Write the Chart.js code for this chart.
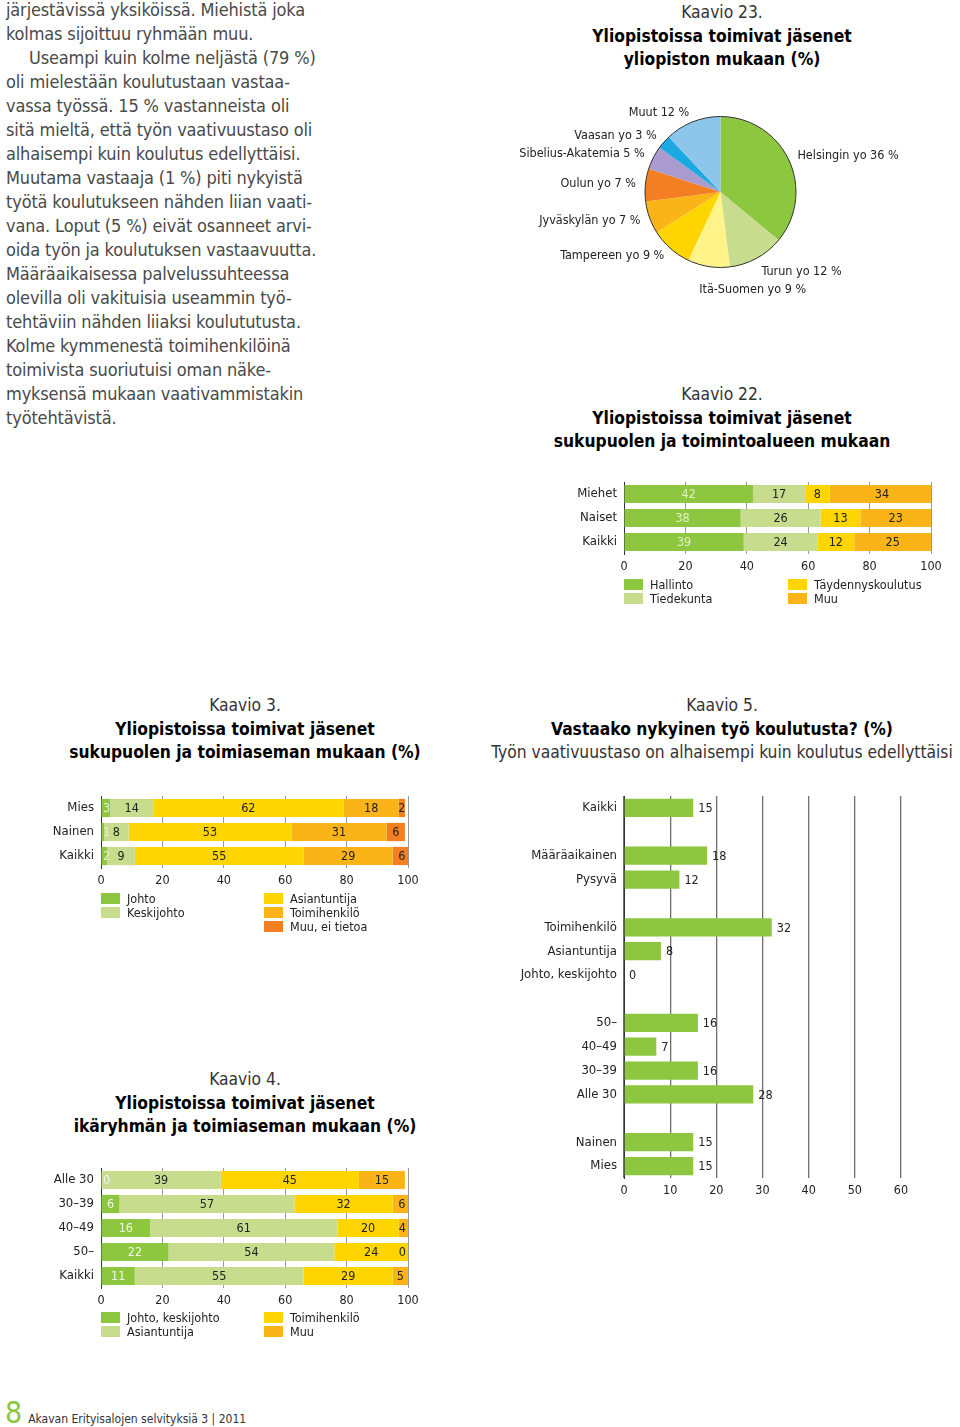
<!DOCTYPE html>
<html lang="fi">
<head>
<meta charset="utf-8">
<script src="https://cdn.jsdelivr.net/npm/chart.js@4.4.1/dist/chart.umd.min.js"></script>
<style>
  body { margin: 0; background: #fff; }
  #page { position: relative; width: 960px; height: 1427px; overflow: hidden;
    font-family: "Liberation Sans Narrow", "DejaVu Sans Condensed", "Roboto Condensed", Roboto, sans-serif; color: #222; }
  .txt { position: absolute; left: 6px; top: -2px; font-size: 18px; letter-spacing: -0.15px; line-height: 24px; color: #4a4a4a; white-space: nowrap; }
  .title { position: absolute; width: 520px; text-align: center; font-size: 17.3px; line-height: 23.7px; color: #333; white-space: nowrap; }
  .title b { color: #000; }
  .box { position: absolute; }
  .lg { position: absolute; height: 14px; line-height: 14px; font-size: 12.5px; white-space: nowrap; color: #222; }
  .lg i { display: inline-block; width: 19px; height: 11px; margin-right: 7px; vertical-align: -1px; }
  .foot { position: absolute; left: 5px; top: 1395px; white-space: nowrap; }
  .foot .n { font-size: 30px; color: #8dc63f; }
  .foot .s { font-size: 12px; color: #333; margin-left: 6px; }
</style>
</head>
<body>
<div id="page">
  <div class="txt">
    <div>järjestävissä yksiköissä. Miehistä joka</div>
    <div>kolmas sijoittuu ryhmään muu.</div>
    <div style="padding-left:23px">Useampi kuin kolme neljästä (79 %)</div>
    <div>oli mielestään koulutustaan vastaa-</div>
    <div>vassa työssä. 15 % vastanneista oli</div>
    <div>sitä mieltä, että työn vaativuustaso oli</div>
    <div>alhaisempi kuin koulutus edellyttäisi.</div>
    <div>Muutama vastaaja (1 %) piti nykyistä</div>
    <div>työtä koulutukseen nähden liian vaati-</div>
    <div>vana. Loput (5 %) eivät osanneet arvi-</div>
    <div>oida työn ja koulutuksen vastaavuutta.</div>
    <div>Määräaikaisessa palvelussuhteessa</div>
    <div>olevilla oli vakituisia useammin työ-</div>
    <div>tehtäviin nähden liiaksi koulututusta.</div>
    <div>Kolme kymmenestä toimihenkilöinä</div>
    <div>toimivista suoriutuisi oman näke-</div>
    <div>myksensä mukaan vaativammistakin</div>
    <div>työtehtävistä.</div>
  </div>

  <div class="title" style="left:462px; top:1px">Kaavio 23.<br><b>Yliopistoissa toimivat jäsenet</b><br><b>yliopiston mukaan (%)</b></div>
  <div class="title" style="left:462px; top:383px">Kaavio 22.<br><b>Yliopistoissa toimivat jäsenet</b><br><b>sukupuolen ja toimintoalueen mukaan</b></div>
  <div class="title" style="left:-15px; top:694px">Kaavio 3.<br><b>Yliopistoissa toimivat jäsenet</b><br><b>sukupuolen ja toimiaseman mukaan (%)</b></div>
  <div class="title" style="left:462px; top:694px">Kaavio 5.<br><b>Vastaako nykyinen työ koulutusta? (%)</b><br>Työn vaativuustaso on alhaisempi kuin koulutus edellyttäisi</div>
  <div class="title" style="left:-15px; top:1068px">Kaavio 4.<br><b>Yliopistoissa toimivat jäsenet</b><br><b>ikäryhmän ja toimiaseman mukaan (%)</b></div>

  <div class="foot"><span class="n">8</span><span class="s">Akavan Erityisalojen selvityksiä 3 | 2011</span></div>
</div>

<script>
// Kaavio 23: yliopiston mukaan
const uniLabels = ["Helsingin yo", "Turun yo", "Itä-Suomen yo", "Tampereen yo", "Jyväskylän yo", "Oulun yo", "Sibelius-Akatemia", "Vaasan yo", "Muut"];
const uniValues = [36, 12, 9, 9, 7, 7, 5, 3, 12];

// Kaavio 22: sukupuoli ja toimintoalue
const k22Groups = ["Miehet", "Naiset", "Kaikki"];
const k22Series = ["Hallinto", "Tiedekunta", "Täydennyskoulutus", "Muu"];
const k22Hallinto = [42, 38, 39];
const k22Tiedekunta = [17, 26, 24];
const k22Taydennys = [8, 13, 12];
const k22Muu = [34, 23, 25];

// Kaavio 3: sukupuoli ja toimiasema
const k3Groups = ["Mies", "Nainen", "Kaikki"];
const k3Series = ["Johto", "Keskijohto", "Asiantuntija", "Toimihenkilö", "Muu, ei tietoa"];
const k3Johto = [3, 1, 2];
const k3Keskijohto = [14, 8, 9];
const k3Asiantuntija = [62, 53, 55];
const k3Toimihenkilo = [18, 31, 29];
const k3Muu = [2, 6, 6];

// Kaavio 4: ikäryhmä ja toimiasema
const k4Groups = ["Alle 30", "30–39", "40–49", "50–", "Kaikki"];
const k4Series = ["Johto, keskijohto", "Asiantuntija", "Toimihenkilö", "Muu"];
const k4Johto = [0, 6, 16, 22, 11];
const k4Asiantuntija = [39, 57, 61, 54, 55];
const k4Toimihenkilo = [45, 32, 20, 24, 29];
const k4Muu = [15, 6, 4, 0, 5];

// Kaavio 5: työn vaativuustaso alhaisempi kuin koulutus (tyhjät rivit = välit)
const k5Rows = ["Kaikki", "", "Määräaikainen", "Pysyvä", "", "Toimihenkilö", "Asiantuntija", "Johto, keskijohto", "",
  "50–", "40–49", "30–39", "Alle 30", "", "Nainen", "Mies"];
const k5Values = [15, null, 18, 12, null, 32, 8, 0, null, 16, 7, 16, 28, null, 15, 15];

const GREEN = "#8dc63f", LIGHTGREEN = "#c8dc8e", YELLOW = "#ffd500", AMBER = "#fbb417", ORANGE = "#f47f22";
const FONT = '"Liberation Sans Narrow", "DejaVu Sans Condensed", "Roboto Condensed", Roboto, sans-serif';

Chart.defaults.font.family = FONT;
Chart.defaults.color = "#222";
Chart.defaults.animation = false;

const page = document.getElementById("page");

function makeCanvas(left, top, w, h) {
  const c = document.createElement("canvas");
  c.width = w; c.height = h;
  c.className = "box";
  c.style.left = left + "px"; c.style.top = top + "px";
  c.style.width = w + "px"; c.style.height = h + "px";
  page.appendChild(c);
  return c;
}

function legend(x1, x2, y0, names, colors, perCol) {
  names.forEach((n, i) => {
    const col = i < perCol ? 0 : 1;
    const row = col ? i - perCol : i;
    const d = document.createElement("div");
    d.className = "lg";
    d.style.left = (col ? x2 : x1) + "px";
    d.style.top = (y0 + row * 14 - 7) + "px";
    d.innerHTML = '<i style="background:' + colors[i] + '"></i>' + n;
    page.appendChild(d);
  });
}

// value labels for the bars
const barLabels = {
  id: "barLabels",
  afterDatasetsDraw(chart, args, opts) {
    const ctx = chart.ctx;
    const xs = chart.scales.x;
    ctx.save();
    ctx.font = "12.5px " + FONT;
    ctx.textBaseline = "middle";
    chart.data.datasets.forEach((ds, i) => {
      chart.getDatasetMeta(i).data.forEach((bar, j) => {
        const v = ds.data[j];
        if (v === null || v === undefined) return;
        const txt = String(v);
        const w = ctx.measureText(txt).width;
        let x;
        if (opts.outside) {
          ctx.textAlign = "left";
          x = bar.x + 5;
        } else {
          ctx.textAlign = "center";
          x = (bar.x + bar.base) / 2;
          x = Math.max(x, xs.left + w / 2 + 2);
          x = Math.min(x, xs.right - w / 2 - 2);
        }
        ctx.fillStyle = opts.colors ? opts.colors[i] : "#222";
        ctx.fillText(txt, x, bar.y + 1);
      });
    });
    ctx.restore();
  }
};

// area = chart area in page pixels
function barChart(area, yw, labels, datasets, opts) {
  const padTop = 20, padRight = 22, xh = 24;
  const c = makeCanvas(area.left - yw, area.top - padTop, yw + area.width + padRight, padTop + area.height + xh);
  return new Chart(c, {
    type: "bar",
    data: { labels: labels, datasets: datasets },
    options: {
      responsive: false,
      indexAxis: "y",
      layout: { padding: { top: padTop, right: padRight, left: 0, bottom: 0 } },
      datasets: { bar: { barPercentage: opts.bar || 0.76, categoryPercentage: 1 } },
      scales: {
        x: {
          stacked: opts.stacked, min: 0, max: opts.max,
          ticks: { stepSize: opts.step, padding: 5, font: { size: 12.5 }, color: "#222" },
          grid: { color: opts.gridColor, lineWidth: opts.gridWidth, drawTicks: false },
          border: { display: false },
          afterFit: s => { s.height = xh; }
        },
        y: {
          stacked: opts.stacked,
          ticks: { padding: 7, font: { size: 13 }, color: "#222", autoSkip: false },
          grid: { display: false, drawTicks: false },
          border: { display: true, color: "#333", width: 1 },
          afterFit: s => { s.width = yw; }
        }
      },
      plugins: {
        legend: { display: false },
        tooltip: { enabled: false },
        barLabels: { colors: opts.labelColors, outside: opts.outside }
      }
    },
    plugins: [barLabels]
  });
}

// Kaavio 23 pie
const pieColors = [GREEN, LIGHTGREEN, "#fff38a", YELLOW, AMBER, ORANGE, "#a99bcd", "#1ca9e1", "#8ec5ea"];
const pieLabelPlugin = {
  id: "pieText",
  afterDraw(chart) {
    const ctx = chart.ctx;
    const arcs = chart.getDatasetMeta(0).data;
    ctx.save();
    ctx.beginPath();
    ctx.arc(arcs[0].x, arcs[0].y, arcs[0].outerRadius, 0, Math.PI * 2);
    ctx.strokeStyle = "#333";
    ctx.lineWidth = 1;
    ctx.stroke();
    ctx.font = "12.5px " + FONT;
    ctx.fillStyle = "#222";
    ctx.textBaseline = "middle";
    arcs.forEach((arc, i) => {
      const mid = (arc.startAngle + arc.endAngle) / 2;
      const R = arc.outerRadius + 9.5;
      let x = arc.x + Math.cos(mid) * R;
      let y = arc.y + Math.sin(mid) * R;
      if (Math.sin(mid) > 0.95) { ctx.textAlign = "left"; x -= 8; y += 14; }
      else ctx.textAlign = Math.cos(mid) > 0 ? "left" : "right";
      if (Math.sin(mid) > 0.8 && Math.sin(mid) <= 0.95) y += 5;
      ctx.fillText(chart.data.labels[i] + " " + chart.data.datasets[0].data[i] + " %", x, y);
    });
    ctx.restore();
  }
};
new Chart(makeCanvas(500, 90, 420, 220), {
  type: "pie",
  data: { labels: uniLabels, datasets: [{ data: uniValues, backgroundColor: pieColors, borderWidth: 0 }] },
  options: {
    responsive: false,
    layout: { padding: { left: 145, right: 124, top: 26.5, bottom: 42.5 } },
    plugins: { legend: { display: false }, tooltip: { enabled: false } }
  },
  plugins: [pieLabelPlugin]
});

// Kaavio 22
const k22Colors = [GREEN, LIGHTGREEN, YELLOW, AMBER];
barChart({ left: 624, top: 481.5, width: 307, height: 72 }, 64, k22Groups,
  [k22Hallinto, k22Tiedekunta, k22Taydennys, k22Muu].map((d, i) => ({ label: k22Series[i], data: d, backgroundColor: k22Colors[i] })),
  { stacked: true, max: 100, step: 20, gridColor: "#9a9a9a", gridWidth: 1, labelColors: ["#e4f1c8", "#222", "#222", "#222"] });
legend(624, 788, 585, k22Series, k22Colors, 2);

// Kaavio 3
const k3Colors = [GREEN, LIGHTGREEN, YELLOW, AMBER, ORANGE];
barChart({ left: 101, top: 796, width: 307, height: 72 }, 61, k3Groups,
  [k3Johto, k3Keskijohto, k3Asiantuntija, k3Toimihenkilo, k3Muu].map((d, i) => ({ label: k3Series[i], data: d, backgroundColor: k3Colors[i] })),
  { stacked: true, max: 100, step: 20, gridColor: "#9a9a9a", gridWidth: 1, labelColors: ["#e4f1c8", "#222", "#222", "#222", "#222"] });
legend(101, 264, 899, k3Series, k3Colors, 2);

// Kaavio 4
const k4Colors = [GREEN, LIGHTGREEN, YELLOW, AMBER];
barChart({ left: 101, top: 1168, width: 307, height: 120 }, 61, k4Groups,
  [k4Johto, k4Asiantuntija, k4Toimihenkilo, k4Muu].map((d, i) => ({ label: k4Series[i], data: d, backgroundColor: k4Colors[i] })),
  { stacked: true, max: 100, step: 20, gridColor: "#9a9a9a", gridWidth: 1, labelColors: ["#f2f8e6", "#222", "#222", "#222"] });
legend(101, 264, 1318, k4Series, k4Colors, 2);

// Kaavio 5
barChart({ left: 624, top: 796, width: 277, height: 382 }, 120, k5Rows,
  [{ label: "Alhaisempi", data: k5Values, backgroundColor: GREEN }],
  { stacked: false, max: 60, step: 10, gridColor: "#6e6e6e", gridWidth: 1.3, outside: true, bar: 0.76 });
</script>
</body>
</html>
